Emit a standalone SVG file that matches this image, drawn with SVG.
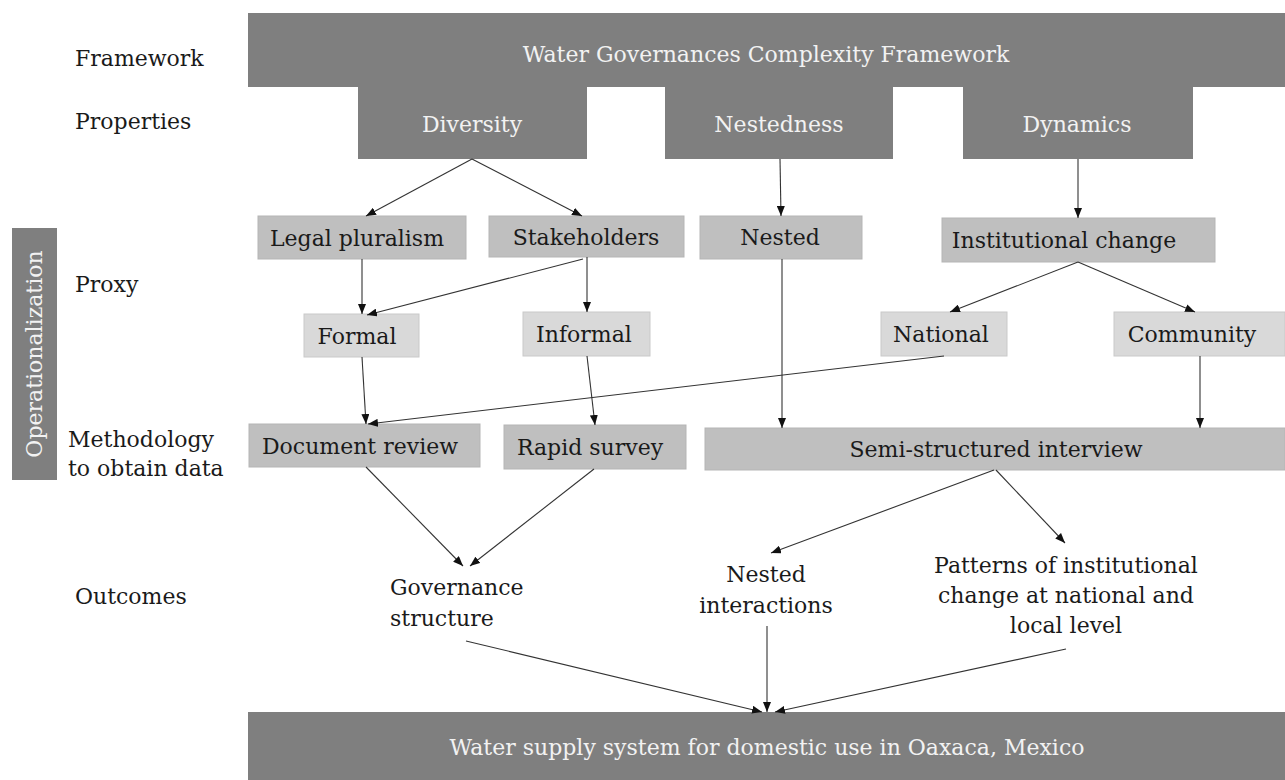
<svg xmlns="http://www.w3.org/2000/svg" width="1285" height="780" viewBox="0 0 1285 780">
  <style>
    text { font-family: "DejaVu Serif", "Liberation Serif", serif; font-size: 22px; fill: #1a1a1a; }
    .dark { fill: #7f7f7f; }
    .dark-t { fill: #f2f2f2; text-anchor: middle; }
    .mid { fill: #bfbfbf; stroke: #b5b5b5; stroke-width: 1; }
    .light { fill: #d9d9d9; stroke: #c9c9c9; stroke-width: 1; }
    .c { text-anchor: middle; }
    #connectors line { stroke: #333333; stroke-width: 1.1; marker-end: url(#arrow); }
  </style>
  <defs>
    <marker id="arrow" markerUnits="userSpaceOnUse" markerWidth="10" markerHeight="8" refX="10" refY="4" orient="auto">
      <path d="M0,0 L10,4 L0,8 z" fill="#111111"/>
    </marker>
  </defs>
  <rect width="1285" height="780" fill="#ffffff"/>

  <!-- row labels -->
  <g id="row-labels">
    <text x="75" y="66">Framework</text>
    <text x="75" y="129">Properties</text>
    <text x="75" y="292">Proxy</text>
    <text x="68" y="447">Methodology</text>
    <text x="68" y="476">to obtain data</text>
    <text x="75" y="604">Outcomes</text>
  </g>

  <g id="operationalization">
    <rect class="dark" x="12" y="228" width="45" height="252"/>
    <text class="dark-t" transform="translate(42,354) rotate(-90)">Operationalization</text>
  </g>

  <!-- framework and properties -->
  <g id="framework">
    <rect class="dark" x="248" y="13" width="1037" height="74"/>
    <text class="dark-t" x="766" y="62">Water Governances Complexity Framework</text>
  </g>
  <g id="diversity">
    <rect class="dark" x="358" y="86" width="229" height="73"/>
    <text class="dark-t" x="472" y="132">Diversity</text>
  </g>
  <g id="nestedness">
    <rect class="dark" x="665" y="86" width="228" height="73"/>
    <text class="dark-t" x="779" y="132">Nestedness</text>
  </g>
  <g id="dynamics">
    <rect class="dark" x="963" y="86" width="230" height="73"/>
    <text class="dark-t" x="1077" y="132">Dynamics</text>
  </g>

  <!-- proxies -->
  <g id="legal-pluralism">
    <rect class="mid" x="258" y="216" width="208" height="43"/>
    <text class="c" x="357" y="246">Legal pluralism</text>
  </g>
  <g id="stakeholders">
    <rect class="mid" x="489" y="216" width="195" height="41"/>
    <text class="c" x="586" y="245">Stakeholders</text>
  </g>
  <g id="nested">
    <rect class="mid" x="700" y="216" width="162" height="43"/>
    <text class="c" x="780" y="245">Nested</text>
  </g>
  <g id="institutional-change">
    <rect class="mid" x="942" y="218" width="273" height="44"/>
    <text class="c" x="1064" y="248">Institutional change</text>
  </g>
  <g id="formal">
    <rect class="light" x="304" y="314" width="115" height="43"/>
    <text class="c" x="357" y="344">Formal</text>
  </g>
  <g id="informal">
    <rect class="light" x="523" y="312" width="127" height="44"/>
    <text class="c" x="584" y="342">Informal</text>
  </g>
  <g id="national">
    <rect class="light" x="881" y="312" width="126" height="44"/>
    <text class="c" x="941" y="342">National</text>
  </g>
  <g id="community">
    <rect class="light" x="1114" y="312" width="171" height="44"/>
    <text class="c" x="1192" y="342">Community</text>
  </g>

  <!-- methodology -->
  <g id="document-review">
    <rect class="mid" x="249" y="424" width="231" height="43"/>
    <text class="c" x="360" y="454">Document review</text>
  </g>
  <g id="rapid-survey">
    <rect class="mid" x="504" y="425" width="182" height="44"/>
    <text class="c" x="590" y="455">Rapid survey</text>
  </g>
  <g id="semi-structured-interview">
    <rect class="mid" x="705" y="428" width="580" height="42"/>
    <text class="c" x="996" y="457">Semi-structured interview</text>
  </g>

  <!-- outcomes -->
  <g id="governance-structure">
    <text x="390" y="595">Governance</text>
    <text x="390" y="626">structure</text>
  </g>
  <g id="nested-interactions">
    <text class="c" x="766" y="582">Nested</text>
    <text class="c" x="766" y="613">interactions</text>
  </g>
  <g id="patterns">
    <text class="c" x="1066" y="573">Patterns of institutional</text>
    <text class="c" x="1066" y="603">change at national and</text>
    <text class="c" x="1066" y="633">local level</text>
  </g>

  <g id="water-supply">
    <rect class="dark" x="248" y="712" width="1037" height="68"/>
    <text class="dark-t" x="767" y="755">Water supply system for domestic use in Oaxaca, Mexico</text>
  </g>

  <g id="connectors">
    <line x1="472" y1="159" x2="366" y2="216"/>
    <line x1="472" y1="159" x2="582" y2="216"/>
    <line x1="780" y1="159" x2="781" y2="216"/>
    <line x1="1078" y1="159" x2="1078" y2="218"/>
    <line x1="362" y1="259" x2="362" y2="314"/>
    <line x1="583" y1="259" x2="367" y2="315"/>
    <line x1="587" y1="257" x2="587" y2="312"/>
    <line x1="1078" y1="262" x2="950" y2="312"/>
    <line x1="1078" y1="262" x2="1195" y2="312"/>
    <line x1="362" y1="357" x2="366" y2="424"/>
    <line x1="944" y1="356" x2="368" y2="424"/>
    <line x1="587" y1="356" x2="595" y2="425"/>
    <line x1="782" y1="259" x2="782" y2="428"/>
    <line x1="1200" y1="356" x2="1200" y2="428"/>
    <line x1="366" y1="467" x2="463" y2="566"/>
    <line x1="594" y1="469" x2="470" y2="566"/>
    <line x1="994" y1="470" x2="771" y2="553"/>
    <line x1="996" y1="470" x2="1065" y2="543"/>
    <line x1="466" y1="641" x2="762" y2="712"/>
    <line x1="767" y1="626" x2="767" y2="712"/>
    <line x1="1066" y1="649" x2="775" y2="712"/>
  </g>
</svg>
